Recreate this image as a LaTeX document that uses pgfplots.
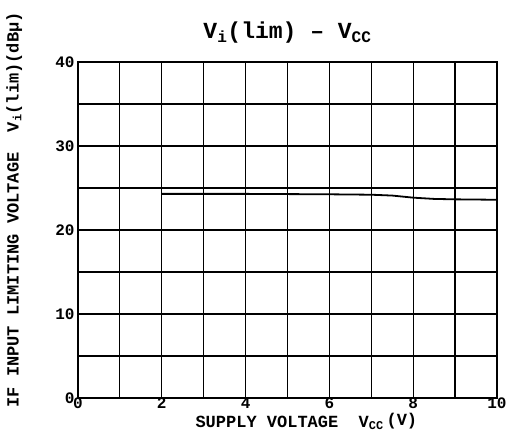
\documentclass[border=0pt]{standalone}
\usepackage{fontspec}
\setmainfont{Liberation Mono}
\usepackage{pgfplots}
\pgfplotsset{compat=1.18}
\begin{document}
\begin{tikzpicture}[x=1pt,y=1pt]
\path[use as bounding box] (-78,-34) rectangle (429,398);
\begin{axis}[
  at={(0,0)}, anchor=south west,
  scale only axis, width=419pt, height=336pt,
  xmin=0, xmax=10, ymin=0, ymax=40,
  xtick={0,2,...,10}, minor xtick={1,3,...,9},
  ytick={0,10,...,40}, minor ytick={5,15,...,35},
  grid=both,
  major grid style={black, line width=1.2pt},
  minor grid style={black, line width=1.2pt},
  axis line style={black, line width=1.8pt},
  tick style={draw=none},
  /pgf/number format/assume math mode=true,
  ticklabel style={font=\fontsize{16}{18}\selectfont\bfseries},
  xticklabel style={yshift=4pt},
  title={V\textsubscript{i}(lim) -- V\textsubscript{CC}},
  title style={font=\fontsize{23}{25}\selectfont\bfseries, at={(rel axis cs:0.5,1.07)}, anchor=center},
  xlabel={SUPPLY VOLTAGE\ \ V\textsubscript{CC}\,\raisebox{2pt}{(V)}},
  xlabel style={font=\fontsize{17}{19}\selectfont\bfseries, at={(rel axis cs:0.545,-0.07)}, anchor=center},
  ylabel={IF INPUT LIMITING VOLTAGE\ \ V\textsubscript{i}(lim)(dBμ)},
  ylabel style={font=\fontsize{17}{19}\selectfont\bfseries, at={(rel axis cs:-0.152,0.56)}, anchor=center, rotate=0},
]
\addplot[black, line width=1.8pt] coordinates {
  (2,24.3) (4,24.3) (6,24.25) (7,24.2) (7.5,24.1) (8,23.85) (8.5,23.7) (9,23.65) (10,23.6)
};
\end{axis}
\end{tikzpicture}
\end{document}
